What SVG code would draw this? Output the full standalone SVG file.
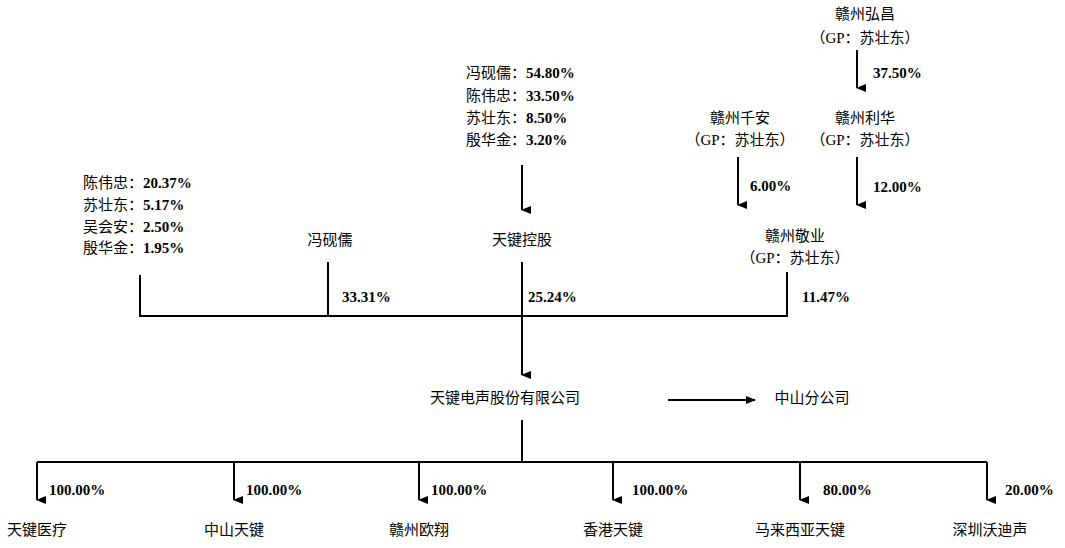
<svg xmlns="http://www.w3.org/2000/svg" width="1065" height="548" viewBox="0 0 1065 548">
<style>
text{font-family:"Liberation Serif","Noto Sans CJK SC",serif;font-size:15px;fill:#000}
.c{text-anchor:middle}
.p{font-weight:bold}
.ln{stroke:#000;stroke-width:2;fill:none}
</style>
<defs><marker id="a" markerWidth="8" markerHeight="10" refX="4" refY="9" orient="auto-start-reverse" markerUnits="userSpaceOnUse" viewBox="0 0 8 10"><path d="M0,0L8,0L4,10z" fill="#000"/></marker>
<marker id="r" markerWidth="10" markerHeight="8" refX="9" refY="4" orient="0" markerUnits="userSpaceOnUse" viewBox="0 0 10 8"><path d="M0,0L10,4L0,8z" fill="#000"/></marker></defs>
<rect width="1065" height="548" fill="#fff"/>
<g id="hongchang"><text class="c" x="865" y="19">赣州弘昌</text><text class="c" x="865" y="43">（GP：苏壮东）</text></g>
<g id="lihua"><text class="c" x="865" y="123">赣州利华</text><text class="c" x="865" y="145">（GP：苏壮东）</text></g>
<g id="qianan"><text class="c" x="740" y="123">赣州千安</text><text class="c" x="740" y="145">（GP：苏壮东）</text></g>
<g id="jingye"><text class="c" x="795" y="241">赣州敬业</text><text class="c" x="795" y="263">（GP：苏壮东）</text></g>
<g id="tjkg-holders"><text x="466" y="78">冯砚儒：<tspan class="p">54.80%</tspan></text><text x="466" y="101">陈伟忠：<tspan class="p">33.50%</tspan></text><text x="466" y="123">苏壮东：<tspan class="p">8.50%</tspan></text><text x="466" y="145">殷华金：<tspan class="p">3.20%</tspan></text></g>
<g id="others"><text x="83" y="188">陈伟忠：<tspan class="p">20.37%</tspan></text><text x="83" y="210">苏壮东：<tspan class="p">5.17%</tspan></text><text x="83" y="232">吴会安：<tspan class="p">2.50%</tspan></text><text x="83" y="253">殷华金：<tspan class="p">1.95%</tspan></text></g>
<g id="fengyanru"><text class="c" x="330" y="245">冯砚儒</text></g>
<g id="tjkg"><text class="c" x="522" y="245">天键控股</text></g>
<g id="tjds"><text class="c" x="505" y="403">天键电声股份有限公司</text></g>
<g id="zsfgs"><text class="c" x="812" y="403">中山分公司</text></g>
<g id="sub1"><text class="c" x="37" y="535">天键医疗</text></g>
<g id="sub2"><text class="c" x="234" y="535">中山天键</text></g>
<g id="sub3"><text class="c" x="419" y="535">赣州欧翔</text></g>
<g id="sub4"><text class="c" x="613" y="535">香港天键</text></g>
<g id="sub5"><text class="c" x="800" y="535">马来西亚天键</text></g>
<g id="sub6"><text class="c" x="990" y="535">深圳沃迪声</text></g>
<g id="connectors">
<path class="ln" d="M857,50V88" marker-end="url(#a)"/>
<path class="ln" d="M857,157V205" marker-end="url(#a)"/>
<path class="ln" d="M738,157V205" marker-end="url(#a)"/>
<path class="ln" d="M522,165V210" marker-end="url(#a)"/>
<path class="ln" d="M140,275V316H787V272M328,262V316M522,262V316"/>
<path class="ln" d="M522,316V375" marker-end="url(#a)"/>
<path class="ln" d="M668,400H755" marker-end="url(#r)"/>
<path class="ln" d="M522,420V462M37,462H987"/>
<path class="ln" d="M37,462V500" marker-end="url(#a)"/><path class="ln" d="M234,462V500" marker-end="url(#a)"/><path class="ln" d="M419,462V500" marker-end="url(#a)"/><path class="ln" d="M613,462V500" marker-end="url(#a)"/><path class="ln" d="M800,462V500" marker-end="url(#a)"/><path class="ln" d="M987,462V500" marker-end="url(#a)"/>
<g class="p"><text x="873" y="78">37.50%</text><text x="873" y="192">12.00%</text><text x="750" y="191">6.00%</text>
<text x="342" y="302">33.31%</text><text x="528" y="302">25.24%</text><text x="802" y="302">11.47%</text>
<text x="49" y="495">100.00%</text><text x="246" y="495">100.00%</text><text x="431" y="495">100.00%</text><text x="632" y="495">100.00%</text><text x="823" y="495">80.00%</text><text x="1005" y="495">20.00%</text></g>
</g>
</svg>
